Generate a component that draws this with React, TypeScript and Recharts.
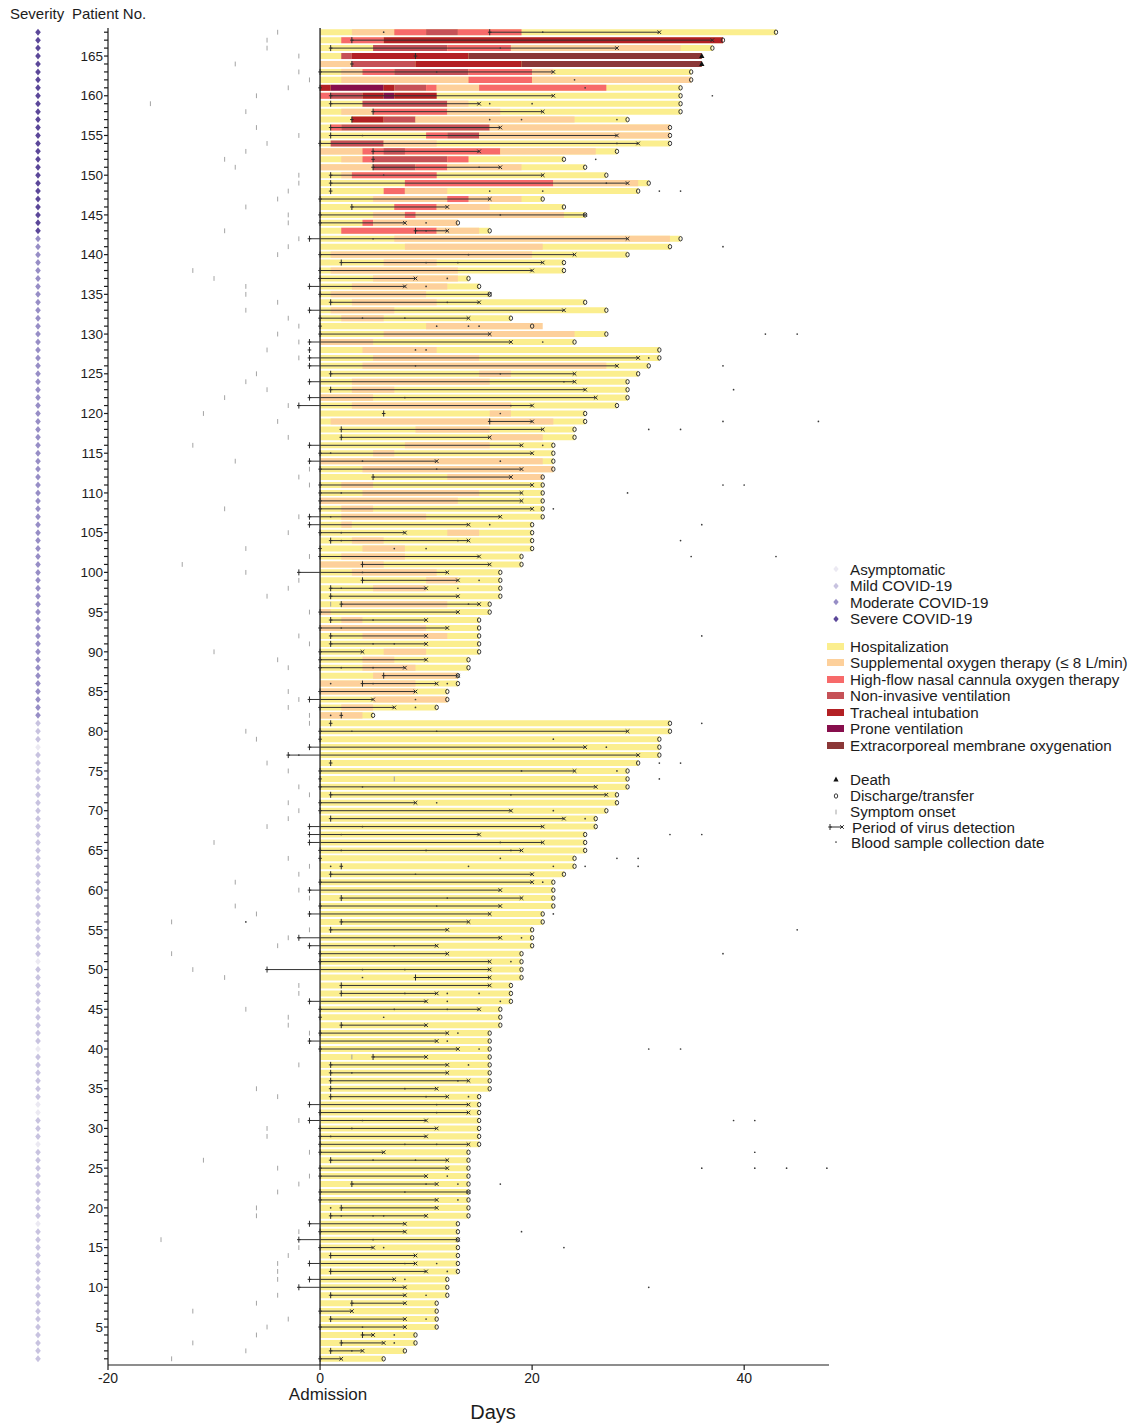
import React from 'react';
import { ComposedChart, XAxis, YAxis, ReferenceArea, ReferenceLine, Scatter } from 'recharts';

const FONT = '"Liberation Sans", Arial, Helvetica, sans-serif';
const INK = '#1c1c1c';

// Patient numbering (categories on the y axis)
const patientNumbers: number[] = Array.from({ length: 168 }, (_, i) => i + 1);

// Severity groups
const asymptomaticPatients = [18, 28, 32, 33, 40, 51, 78];
const firstModeratePatient = 82;
const firstSeverePatient = 143;
const severityColors = ['#ebe9f2', '#c8c3e0', '#978ec6', '#5b4799'];

// Day of discharge/transfer (or death) for patients 1..168
const dischargeDay = [
  6, 8, 9, 9, 11, 11, 11, 11, 12, 12,
  12, 13, 13, 13, 13, 13, 13, 13, 14, 14,
  14, 14, 14, 14, 14, 14, 14, 15, 15, 15,
  15, 15, 15, 15, 16, 16, 16, 16, 16, 16,
  16, 16, 17, 17, 17, 18, 18, 18, 19, 19,
  19, 19, 20, 20, 20, 21, 21, 22, 22, 22,
  22, 23, 24, 24, 25, 25, 25, 26, 26, 27,
  28, 28, 29, 29, 29, 30, 32, 32, 32, 33,
  33, 5, 11, 12, 12, 13, 13, 14, 14, 15,
  15, 15, 15, 15, 16, 16, 17, 17, 17, 17,
  19, 19, 20, 20, 20, 20, 21, 21, 21, 21,
  21, 21, 22, 22, 22, 22, 24, 24, 25, 25,
  28, 29, 29, 29, 30, 31, 32, 32, 24, 27,
  20, 18, 27, 25, 16, 15, 14, 23, 23, 29,
  33, 34, 16, 13, 25, 23, 21, 30, 31, 27,
  25, 23, 28, 33, 33, 33, 29, 34, 34, 34,
  34, 35, 35, 36, 36, 37, 38, 43,
];

const deathPatients = [164, 165];

// Day of symptom onset relative to admission (null: no onset recorded)
const symptomOnsetDay: (number | null)[] = [
  -14, -7, -12, -6, -5, -3, -12, -6, -4, null,
  -4, -4, -4, -3, -2, -15, -2, null, -6, -6,
  null, -4, -2, -1, -4, -11, -1, null, -5, -5,
  -2, null, null, -4, -6, null, null, -2, 3, null,
  null, -1, -3, -3, -7, null, -2, -2, -9, -12,
  null, -14, -4, -3, -1, -14, -6, -8, -1, -2,
  -8, -2, -1, -3, null, -10, null, -5, -3, -2,
  -3, -1, -2, 7, -3, -5, null, null, -6, -7,
  -1, -1, -3, -2, -3, null, null, -3, -4, -10,
  -1, -2, null, null, -1, 1, -5, -3, -2, -7,
  -13, -1, -7, null, -3, null, -2, -9, -20, null,
  -1, -2, -1, -8, null, -12, -3, null, -4, -11,
  -3, -9, -5, -7, -6, null, -2, -5, -2, -4,
  -2, -3, -7, -4, -7, -7, -10, -12, null, -4,
  -3, -2, -9, -3, -3, -7, -4, -3, -2, -2,
  -8, -9, -7, -5, -2, -6, null, -7, -16, -6,
  -3, -1, -2, -8, -2, -5, -5, -4,
];

// First and last positive virus detection (days)
const virusStartDay: (number | null)[] = [
  0, 1, 2, 4, 0, 1, 0, 3, 1, -2,
  -1, 1, -1, 1, 0, -2, 0, -1, 1, 2,
  0, 0, 3, 0, 0, 1, 0, 0, 0, 0,
  -1, 0, -1, 1, 1, 1, 1, 1, 5, 0,
  -1, 0, 2, 0, 0, -1, 2, 2, 9, -5,
  0, 0, -1, -2, 1, 2, -1, 0, 2, -1,
  0, 1, 2, 0, 0, -1, -1, -1, 1, 0,
  0, 1, 0, 0, 0, 1, -3, -1, 0, 0,
  1, 2, 0, -1, 0, 4, 6, 0, 0, 0,
  1, 1, 0, 1, 0, 2, 1, 1, 4, -2,
  4, 0, 0, 1, 0, -1, -1, 0, 0, 0,
  0, 5, 0, -1, 0, -1, 2, 2, 16, 6,
  -2, -1, 1, -1, 1, -1, -1, -1, -1, 0,
  0, 0, -1, 1, 0, -1, 0, 0, 2, 0,
  null, -1, 9, 0, 0, 3, 0, 1, 1, 1,
  5, 5, 5, 0, 1, 1, 3, 5, 1, 1,
  0, null, 0, 3, 9, 1, 3, 16,
];

const virusEndDay: (number | null)[] = [
  2, 4, 6, 5, 8, 8, 3, 8, 8, 8,
  7, 10, 9, 9, 5, 13, 8, 8, 10, 11,
  11, 14, 11, 10, 12, 12, 6, 14, 10, 11,
  10, 14, 14, 12, 11, 14, 12, 12, 10, 13,
  11, 12, 10, null, 15, 10, 11, 16, 16, 16,
  16, 12, 11, 17, 12, 14, 16, 17, 19, 17,
  20, 20, null, null, 19, 21, 15, 21, 23, 18,
  9, 27, 26, null, 24, null, 30, 25, null, 29,
  null, null, 7, 5, 9, 11, 13, 8, 10, 4,
  10, 10, 12, 10, 13, 15, 13, 10, 13, 12,
  16, 15, null, 14, 8, 14, 17, 20, 19, 19,
  20, 18, 19, 11, 20, 19, 16, 21, 20, null,
  20, 26, 25, 24, 24, 28, 30, null, 18, 16,
  null, 14, 23, 15, 16, 8, 9, 20, 21, 24,
  null, 29, 12, 8, 25, 12, 16, null, 29, 21,
  17, null, 15, 30, 28, 17, null, 21, 15, 22,
  null, null, 22, null, null, 28, 37, 32,
];

// Blood sample collection dates: [patient, day]
const bloodSamples: [number, number][] = [
  [2, 3], [3, 7], [4, 7], [5, 4], [6, 10], [9, 10], [10, 31], [11, 8], [12, 12], [13, 8], [13, 11],
  [15, 6], [15, 23], [16, 5], [17, 19], [19, 2], [19, 5], [19, 6], [20, 1], [21, 13], [22, 8],
  [23, 10], [23, 13], [23, 17], [24, 12], [25, 36], [25, 41], [25, 44], [25, 47.8], [26, 5], [26, 9],
  [27, 41], [28, 8], [28, 11], [29, 1], [30, 3], [31, 4], [31, 39], [31, 41], [32, 11], [33, 11],
  [34, 10], [34, 14], [35, 8], [36, 13], [37, 3], [38, 14], [40, 15], [40, 31], [40, 34], [41, 12],
  [42, 13], [44, 6], [45, 7], [45, 12], [46, 12], [46, 17], [47, 8], [47, 12], [47, 15], [49, 4],
  [50, 4], [50, 8], [51, 18], [52, 38], [53, 7], [54, 19], [55, 45], [56, -7], [57, 22], [58, 11],
  [59, 12], [61, 21], [62, 9], [63, 1], [63, 14], [63, 22], [63, 25], [63, 30], [64, 17], [64, 28],
  [64, 30], [65, 2], [65, 10], [65, 18], [66, 17], [67, 2], [67, 33], [67, 36], [68, 4], [69, 25],
  [70, 22], [71, 11], [72, 18], [73, 4], [74, 32], [75, 19], [75, 28], [76, 32], [76, 34], [77, -2],
  [78, 27], [79, 22], [80, 3], [80, 11], [81, 36], [82, 1], [83, 9], [84, 9], [86, 1], [86, 5],
  [86, 12], [88, 2], [88, 5], [91, 5], [91, 7], [92, 36], [93, 2], [94, 5], [96, 14], [98, 2],
  [98, 13], [99, 15], [100, 4], [102, 35], [102, 43], [103, 7], [103, 10], [104, 2], [104, 13],
  [104, 34], [105, 2], [106, 16], [106, 36], [107, 1], [108, 22], [110, 2], [110, 29], [111, 38],
  [111, 40], [113, 11], [114, 4], [114, 17], [115, 1], [116, 21], [118, 31], [118, 34], [119, 38],
  [119, 47], [120, 17], [121, 18], [122, 8], [123, 39], [124, 23], [125, 17], [126, 9], [126, 38],
  [127, 31], [128, 9], [128, 10], [129, 21], [130, 42], [130, 45], [131, 11], [131, 14], [131, 15],
  [132, 4], [132, 8], [134, 12], [136, 10], [137, 12], [139, 10], [139, 13], [140, 14], [141, 38],
  [142, 5], [143, 10], [144, 10], [145, 17], [148, 16], [148, 21], [148, 32], [148, 34], [149, 27],
  [150, 6], [151, 15], [152, 26], [154, 28], [155, 4], [157, 16], [157, 19], [157, 28], [159, 16],
  [159, 20], [160, 37], [161, 25], [162, 24], [163, 11], [166, 17], [168, 6], [168, 21],
];

// Respiratory support periods: [patient, kind, start day, end day]
const therapyPeriods: [number, string, number, number][] = [
  [82, 'O2', 0, 4], [83, 'O2', 2, 5], [84, 'O2', 5, 12], [85, 'O2', 0, 9], [86, 'O2', 0, 9],
  [87, 'O2', 5, 13], [88, 'O2', 4, 9], [89, 'O2', 4, 7], [90, 'O2', 6, 10], [92, 'O2', 4, 12],
  [93, 'O2', 0, 10], [94, 'O2', 2, 4], [95, 'O2', 0, 1], [96, 'O2', 2, 12], [98, 'O2', 5, 10],
  [99, 'O2', 10, 13], [100, 'O2', 3, 11], [101, 'O2', 0, 6], [102, 'O2', 2, 8], [103, 'O2', 4, 8],
  [104, 'O2', 3, 6], [105, 'O2', 12, 15], [106, 'O2', 2, 3], [107, 'O2', 2, 10], [108, 'O2', 2, 5],
  [109, 'O2', 0, 13], [110, 'O2', 4, 15], [111, 'O2', 2, 5], [112, 'O2', 12, 21], [113, 'O2', 4, 22],
  [114, 'O2', 0, 21], [115, 'O2', 5, 7], [116, 'O2', 8, 16], [117, 'O2', 16, 21], [118, 'O2', 9, 16],
  [119, 'O2', 1, 22], [120, 'O2', 16, 18], [121, 'O2', 3, 18], [122, 'O2', 0, 5], [123, 'O2', 3, 7],
  [124, 'O2', 3, 16], [125, 'O2', 15, 18], [126, 'O2', 4, 27], [127, 'O2', 5, 15], [128, 'O2', 4, 11],
  [129, 'O2', 0, 5], [130, 'O2', 6, 24], [131, 'O2', 10, 21], [132, 'O2', 2, 6], [133, 'O2', 1, 7],
  [134, 'O2', 3, 11], [135, 'O2', 1, 10], [136, 'O2', 3, 12], [137, 'O2', 5, 13], [138, 'O2', 1, 13],
  [139, 'O2', 6, 11], [140, 'O2', 1, 20], [141, 'O2', 8, 21], [142, 'O2', 7, 33],
  [143, 'HF', 2, 11], [143, 'O2', 11, 15],
  [144, 'HF', 4, 5], [144, 'O2', 5, 13],
  [145, 'O2', 5, 23], [145, 'HF', 8, 9],
  [146, 'HF', 7, 11], [146, 'O2', 11, 16],
  [147, 'O2', 5, 19], [147, 'HF', 12, 14],
  [148, 'HF', 6, 8], [148, 'O2', 8, 12],
  [149, 'HF', 8, 22], [149, 'O2', 22, 30],
  [150, 'O2', 2, 3], [150, 'HF', 3, 11],
  [151, 'O2', 0, 5], [151, 'NIV', 5, 9], [151, 'HF', 9, 12], [151, 'O2', 12, 19],
  [152, 'O2', 2, 4], [152, 'HF', 4, 5], [152, 'NIV', 5, 12], [152, 'HF', 12, 14],
  [153, 'O2', 0, 4], [153, 'HF', 4, 17], [153, 'NIV', 6, 8], [153, 'O2', 17, 26],
  [154, 'NIV', 1, 6], [154, 'O2', 6, 11],
  [155, 'HF', 10, 12], [155, 'NIV', 12, 15], [155, 'O2', 15, 33],
  [156, 'HF', 1, 2], [156, 'NIV', 2, 16], [156, 'O2', 16, 33],
  [157, 'TI', 3, 6], [157, 'NIV', 6, 9], [157, 'O2', 9, 24],
  [158, 'O2', 2, 5], [158, 'HF', 5, 12], [158, 'O2', 12, 17],
  [159, 'NIV', 4, 12], [159, 'O2', 12, 14],
  [160, 'HF', 0, 1], [160, 'NIV', 1, 4], [160, 'TI', 4, 6], [160, 'PR', 6, 7], [160, 'TI', 7, 11],
  [161, 'TI', 0, 1], [161, 'PR', 1, 6], [161, 'TI', 6, 7], [161, 'NIV', 7, 10], [161, 'HF', 10, 11],
  [161, 'O2', 11, 15], [161, 'HF', 15, 27],
  [162, 'O2', 2, 14], [162, 'HF', 14, 20], [162, 'O2', 20, 35],
  [163, 'O2', 2, 4], [163, 'HF', 4, 7], [163, 'NIV', 7, 14], [163, 'HF', 14, 20], [163, 'O2', 20, 22],
  [164, 'O2', 0, 3], [164, 'NIV', 3, 9], [164, 'TI', 9, 19], [164, 'EC', 19, 36],
  [165, 'NIV', 2, 3], [165, 'TI', 3, 14], [165, 'EC', 14, 36],
  [166, 'NIV', 5, 12], [166, 'HF', 12, 18], [166, 'O2', 18, 34],
  [167, 'HF', 2, 6], [167, 'TI', 6, 38],
  [168, 'O2', 3, 7], [168, 'HF', 7, 10], [168, 'NIV', 10, 13], [168, 'HF', 13, 19],
];

const HOSPITAL_COLOR = '#fbee8e';
const therapyStyles: Record<string, { label: string; color: string }> = {
  O2: { label: 'Supplemental oxygen therapy (≤ 8 L/min)', color: '#fdd09b' },
  HF: { label: 'High-flow nasal cannula oxygen therapy', color: '#f76a6a' },
  NIV: { label: 'Non-invasive ventilation', color: '#c65157' },
  TI: { label: 'Tracheal intubation', color: '#b32024' },
  PR: { label: 'Prone ventilation', color: '#870e4c' },
  EC: { label: 'Extracorporeal membrane oxygenation', color: '#8b3737' },
};
const therapyOrder = ['O2', 'HF', 'NIV', 'TI', 'PR', 'EC'];

const BAR_HALF = 0.38;

const severityOf = (p: number) =>
  asymptomaticPatients.includes(p) ? 0 : p >= firstSeverePatient ? 3 : p >= firstModeratePatient ? 2 : 1;

// Point sets for the marker series
const dischargePoints = patientNumbers
  .filter((p) => !deathPatients.includes(p))
  .map((p) => ({ x: dischargeDay[p - 1], y: p }));
const deathPoints = deathPatients.map((p) => ({ x: dischargeDay[p - 1], y: p }));
const symptomPoints = patientNumbers
  .filter((p) => symptomOnsetDay[p - 1] !== null)
  .map((p) => ({ x: symptomOnsetDay[p - 1] as number, y: p }));
const virusStartPoints = patientNumbers
  .filter((p) => virusStartDay[p - 1] !== null)
  .map((p) => ({ x: virusStartDay[p - 1] as number, y: p }));
const virusEndPoints = patientNumbers
  .filter((p) => virusEndDay[p - 1] !== null)
  .map((p) => ({ x: virusEndDay[p - 1] as number, y: p }));
const bloodPoints = bloodSamples.map(([p, d]) => ({ x: d, y: p }));

// Marker shapes
const DischargeMark = (props: any) => {
  const { cx, cy } = props;
  if (cx == null || cy == null) return <g />;
  return <ellipse cx={cx} cy={cy} rx={1.7} ry={2.2} fill="#fff" fillOpacity={0.2} stroke="#222" strokeWidth={0.9} />;
};
const DeathMark = (props: any) => {
  const { cx, cy } = props;
  if (cx == null || cy == null) return <g />;
  return <path d={`M${cx},${cy - 3}L${cx + 2.7},${cy + 2}L${cx - 2.7},${cy + 2}Z`} fill="#111" />;
};
const SymptomMark = (props: any) => {
  const { cx, cy } = props;
  if (cx == null || cy == null) return <g />;
  return <line x1={cx} x2={cx} y1={cy - 2.4} y2={cy + 2.4} stroke="#9a9a9a" strokeWidth={0.9} />;
};
const VirusStartMark = (props: any) => {
  const { cx, cy } = props;
  if (cx == null || cy == null) return <g />;
  return (
    <path d={`M${cx},${cy - 3}V${cy + 3}M${cx - 1.8},${cy}H${cx + 1.8}`} stroke="#2a2a2a" strokeWidth={1} fill="none" />
  );
};
const VirusEndMark = (props: any) => {
  const { cx, cy } = props;
  if (cx == null || cy == null) return <g />;
  return (
    <path
      d={`M${cx - 1.8},${cy - 1.8}L${cx + 1.8},${cy + 1.8}M${cx - 1.8},${cy + 1.8}L${cx + 1.8},${cy - 1.8}`}
      stroke="#2a2a2a"
      strokeWidth={1}
      fill="none"
    />
  );
};
const BloodMark = (props: any) => {
  const { cx, cy } = props;
  if (cx == null || cy == null) return <g />;
  return <circle cx={cx} cy={cy} r={0.85} fill="#3a3a3a" />;
};

const diamondPath = (cx: number, cy: number, w: number, h: number) =>
  `M${cx},${cy - h}L${cx + w},${cy}L${cx},${cy + h}L${cx - w},${cy}Z`;

// Y tick: patient number every 5 rows plus the severity diamond column
const PatientTick = (props: any) => {
  const { x, y, payload } = props;
  const p = payload.value as number;
  return (
    <g>
      <path d={diamondPath(x - 65, y, 2.8, 3.5)} fill={severityColors[severityOf(p)]} />
      {p % 5 === 0 && (
        <text x={x} y={y} dy={4.7} textAnchor="end" fontSize={13.5} fontFamily={FONT} fill={INK}>
          {p}
        </text>
      )}
    </g>
  );
};

const DayTick = (props: any) => {
  const { x, y, payload } = props;
  return (
    <g>
      <text x={x} y={y} dy={10.5} textAnchor="middle" fontSize={14} fontFamily={FONT} fill={INK}>
        {payload.value}
      </text>
      {payload.value === 0 && (
        <text x={x + 8} y={y + 28} textAnchor="middle" fontSize={17} fontFamily={FONT} fill={INK}>
          Admission
        </text>
      )}
    </g>
  );
};

const severityLegend = [
  { label: 'Asymptomatic', level: 0, y: 569 },
  { label: 'Mild COVID-19', level: 1, y: 585.5 },
  { label: 'Moderate COVID-19', level: 2, y: 602 },
  { label: 'Severe COVID-19', level: 3, y: 618.5 },
];
const supportLegend = [
  { label: 'Hospitalization', color: HOSPITAL_COLOR, y: 646 },
  ...therapyOrder.map((k, i) => ({ label: therapyStyles[k].label, color: therapyStyles[k].color, y: 662.5 + i * 16.5 })),
];
const markerLegend = [
  { label: 'Death', kind: 'death', y: 779 },
  { label: 'Discharge/transfer', kind: 'discharge', y: 795.5 },
  { label: 'Symptom onset', kind: 'symptom', y: 811.5 },
  { label: 'Period of virus detection', kind: 'virus', y: 827 },
  { label: 'Blood sample collection date', kind: 'blood', y: 842 },
];

const legendText = (label: string, y: number, left = 850) => (
  <div
    key={`t-${label}`}
    style={{ position: 'absolute', left, top: y - 8.5, height: 17, lineHeight: '17px', fontSize: 15.2, whiteSpace: 'nowrap' }}
  >
    {label}
  </div>
);

const markerIcon = (kind: string) => {
  switch (kind) {
    case 'death':
      return <path d="M10,4.5L12.6,9.5L7.4,9.5Z" fill="#111" />;
    case 'discharge':
      return <ellipse cx={10} cy={7} rx={1.7} ry={2.2} fill="none" stroke="#222" strokeWidth={0.9} />;
    case 'symptom':
      return <line x1={10} x2={10} y1={4.6} y2={9.4} stroke="#9a9a9a" strokeWidth={0.9} />;
    case 'virus':
      return (
        <g stroke="#2a2a2a" strokeWidth={1} fill="none">
          <path d="M4,7H16" />
          <path d="M4,4V10M2.2,7H5.8" />
          <path d="M14.2,5.2L17.8,8.8M14.2,8.8L17.8,5.2" />
        </g>
      );
    default:
      return <circle cx={10} cy={7} r={0.85} fill="#3a3a3a" />;
  }
};

export default function App() {
  return (
    <div
      style={{
        position: 'absolute',
        left: 0,
        top: 0,
        width: 1133,
        height: 1425,
        overflow: 'hidden',
        background: '#fff',
        fontFamily: FONT,
        color: INK,
      }}
    >
      <div style={{ position: 'absolute', left: 0, top: 0 }}>
        <ComposedChart width={1133} height={1425} margin={{ top: 28, right: 304, bottom: 0, left: 0 }}>
          <XAxis
            type="number"
            dataKey="x"
            domain={[-20, 48]}
            ticks={[-20, 0, 20, 40]}
            allowDataOverflow
            interval={0}
            height={60}
            tickSize={5}
            tickMargin={2}
            stroke={INK}
            strokeWidth={1.2}
            tick={(p: any) => <DayTick {...p} />}
          />
          <YAxis
            type="number"
            dataKey="y"
            domain={[0.22, 168.53]}
            ticks={patientNumbers}
            allowDataOverflow
            interval={0}
            width={108}
            tickSize={4}
            tickMargin={1}
            stroke={INK}
            strokeWidth={1.2}
            tick={(p: any) => <PatientTick {...p} />}
          />

          {patientNumbers.map((p) => (
            <ReferenceArea
              key={`h-${p}`}
              x1={0}
              x2={dischargeDay[p - 1]}
              y1={p - BAR_HALF}
              y2={p + BAR_HALF}
              fill={HOSPITAL_COLOR}
              fillOpacity={1}
              stroke="none"
              strokeWidth={0}
            />
          ))}
          {therapyPeriods.map(([p, kind, s, e], i) => (
            <ReferenceArea
              key={`t-${i}`}
              x1={s}
              x2={e}
              y1={p - BAR_HALF}
              y2={p + BAR_HALF}
              fill={therapyStyles[kind].color}
              fillOpacity={1}
              stroke="none"
              strokeWidth={0}
            />
          ))}

          <ReferenceLine x={0} stroke={INK} strokeWidth={1.3} />

          {patientNumbers
            .filter((p) => virusStartDay[p - 1] !== null && virusEndDay[p - 1] !== null)
            .map((p) => (
              <ReferenceLine
                key={`v-${p}`}
                segment={[
                  { x: virusStartDay[p - 1] as number, y: p },
                  { x: virusEndDay[p - 1] as number, y: p },
                ]}
                stroke="#333"
                strokeWidth={1}
              />
            ))}

          <Scatter data={symptomPoints} shape={SymptomMark} isAnimationActive={false} />
          <Scatter data={bloodPoints} shape={BloodMark} isAnimationActive={false} />
          <Scatter data={virusStartPoints} shape={VirusStartMark} isAnimationActive={false} />
          <Scatter data={virusEndPoints} shape={VirusEndMark} isAnimationActive={false} />
          <Scatter data={dischargePoints} shape={DischargeMark} isAnimationActive={false} />
          <Scatter data={deathPoints} shape={DeathMark} isAnimationActive={false} />
        </ComposedChart>
      </div>

      <div style={{ position: 'absolute', left: 10, top: 5, fontSize: 15, lineHeight: '18px', whiteSpace: 'nowrap' }}>
        Severity
      </div>
      <div style={{ position: 'absolute', left: 72, top: 5, fontSize: 15, lineHeight: '18px', whiteSpace: 'nowrap' }}>
        Patient No.
      </div>
      <div
        style={{
          position: 'absolute',
          left: 443,
          width: 100,
          top: 1401,
          textAlign: 'center',
          fontSize: 20,
          lineHeight: '22px',
        }}
      >
        Days
      </div>

      {severityLegend.map((s) => (
        <React.Fragment key={s.label}>
          <svg style={{ position: 'absolute', left: 829, top: s.y - 6 }} width={14} height={12}>
            <path d={diamondPath(7, 6, 2.7, 3.3)} fill={severityColors[s.level]} />
          </svg>
          {legendText(s.label, s.y)}
        </React.Fragment>
      ))}
      {supportLegend.map((s) => (
        <React.Fragment key={s.label}>
          <div style={{ position: 'absolute', left: 827, top: s.y - 3.5, width: 17, height: 7, background: s.color }} />
          {legendText(s.label, s.y)}
        </React.Fragment>
      ))}
      {markerLegend.map((m) => (
        <React.Fragment key={m.label}>
          <svg style={{ position: 'absolute', left: 826, top: m.y - 7 }} width={20} height={14}>
            {markerIcon(m.kind)}
          </svg>
          {legendText(m.label, m.y, m.kind === 'virus' ? 852 : m.kind === 'blood' ? 851 : 850)}
        </React.Fragment>
      ))}
    </div>
  );
}
